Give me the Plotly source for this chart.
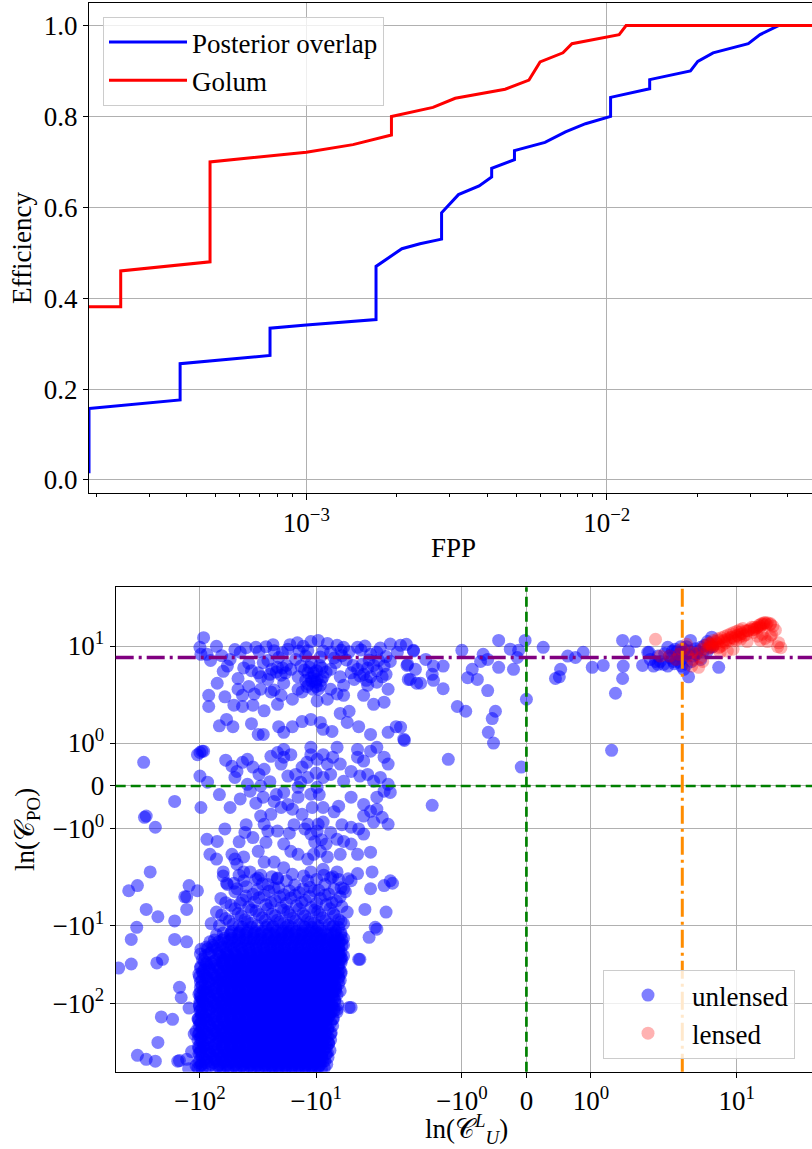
import numpy as np
import plotly.graph_objects as go

# ---------------- top panel: efficiency vs FPP ----------------
po_fpp = [1.89e-4, 1.89e-4, 3.80e-4, 3.80e-4, 7.57e-4, 7.57e-4, 1.0e-3, 1.706e-3, 1.706e-3,
          2.08e-3, 2.39e-3, 2.82e-3, 2.82e-3, 3.21e-3, 3.76e-3, 4.14e-3, 4.14e-3, 4.93e-3,
          4.93e-3, 6.23e-3, 7.29e-3, 8.50e-3, 1.03e-2, 1.03e-2, 1.39e-2, 1.39e-2, 1.90e-2,
          2.01e-2, 2.26e-2, 2.96e-2, 3.24e-2, 3.73e-2, 1.0e-1]
po_eff = [0.015, 0.157, 0.176, 0.256, 0.274, 0.334, 0.341, 0.353, 0.470,
          0.509, 0.520, 0.530, 0.588, 0.628, 0.647, 0.667, 0.686, 0.705,
          0.725, 0.743, 0.766, 0.784, 0.800, 0.842, 0.861, 0.881, 0.900,
          0.921, 0.940, 0.960, 0.980, 1.0, 1.0]

golum_fpp = [1.89e-4, 2.41e-4, 2.41e-4, 4.78e-4, 4.78e-4, 1.0e-3, 1.43e-3, 1.92e-3, 1.92e-3,
             2.64e-3, 3.13e-3, 4.59e-3, 5.51e-3, 6.0e-3, 7.15e-3, 7.66e-3, 1.10e-2, 1.16e-2, 1.0e-1]
golum_eff = [0.381, 0.381, 0.460, 0.480, 0.700, 0.721, 0.738, 0.759, 0.800,
             0.820, 0.840, 0.860, 0.880, 0.920, 0.940, 0.960, 0.980, 1.0, 1.0]

fpp_major_ticks = [1e-3, 1e-2]
fpp_major_text = ["10<sup>\u22123</sup>", "10<sup>\u22122</sup>"]
fpp_minor_ticks = [2e-4, 3e-4, 4e-4, 5e-4, 6e-4, 7e-4, 8e-4, 9e-4,
                   2e-3, 3e-3, 4e-3, 5e-3, 6e-3, 7e-3, 8e-3, 9e-3,
                   2e-2, 3e-2, 4e-2]
eff_ticks = [0.0, 0.2, 0.4, 0.6, 0.8, 1.0]

# ---------------- bottom panel: ln C_U^L vs ln C_PO ----------------
unlensed_top_band = [
    (-93, 12.8), (-72, 9.9), (-87, 7.8), (-81, 6.5), (-63, 4.7), (-71, 3.3), (-84, 2.3), (-84, 1.85),
    (-61, 2.2), (-59, 1.55), (-68, 1.4), (-52, 1.38), (-51, 1.88), (-43, 1.85), (-35, 1.88), (-47, 2.76),
    (-43, 2.3), (-47, 3.8), (-45, 8.3), (-55, 6.7), (-33, 9.6), (-31, 8.5), (-27, 9.8), (-23, 8.7),
    (-21, 7.1), (-17.5, 9.1), (-14.5, 11), (-12.9, 9.9), (-11.1, 11.4), (-9.6, 11.8), (-8.7, 8.6),
    (-30, 4.0), (-26, 3.7), (-23, 2.7), (-20, 2.3), (-18.3, 4.5), (-16.5, 5.0), (-14.3, 4.0), (-12.3, 3.6),
    (-11.1, 3.9), (-10.1, 3.4), (-9.2, 3.1), (-10.5, 4.5), (-9.8, 3.7), (-7.5, 2.76), (-6.6, 2.4),
    (-5.8, 2.3), (-5.0, 4.5), (-4.4, 5.0), (-3.9, 4.3), (-3.4, 4.0), (-3.0, 4.8), (-2.6, 5.5), (-2.3, 6.3),
    (-2.0, 8.3), (-1.95, 10.2), (-1.75, 8.6), (-1.85, 5.6), (-1.8, 3.7), (-1.7, 3.3),
    (-31.5, 1.2), (-28.5, 1.2), (-21, 1.38), (-19, 1.25), (-16, 1.38), (-13.2, 1.5), (-11.1, 1.55),
    (-9.2, 1.48), (-8.7, 1.32), (-7.3, 1.27), (-6.2, 1.69), (-5.2, 1.74), (-5.4, 1.48), (-4.3, 1.38),
    (-3.4, 1.2), (-2.4, 1.25), (-2.05, 1.38), (-1.9, 1.09),
    (-11.6, 3.2), (-10.7, 2.76), (-9.6, 2.76), (-11.8, 4.5), (-8.7, 4.0), (-13.2, 2.55), (-14.3, 2.76),
    (-16, 2.05), (-8.0, 2.05), (-9.8, 1.98), (-4.7, 3.7), (-3.6, 3.1), (-3.0, 3.4), (-2.5, 4.3),
    (-2.4, 2.76), (-3.9, 2.3), (-3.2, 1.9), (-2.6, 1.95), (-3.4, 7.8), (-3.0, 8.3), (-4.4, 9.6),
    (-5.8, 9.6), (-6.6, 10.2), (-7.5, 8.3), (-26, 6.5), (-21.5, 5.3), (-15, 6.7), (-12.3, 7.4),
    (-19, 3.3), (-21.5, 1.9), (-24.5, 2.55), (-30, 2.76), (-31.5, 4.5), (-28.5, 6.1), (-7.5, 5.0),
    (-6.2, 4.0), (-5.8, 3.1),
    (-10.4, 4.1), (-9.9, 4.8), (-11.4, 5.3), (-12.6, 4.9), (-9.3, 5.6), (-10.9, 3.5), (-12.0, 3.0),
    (-9.0, 3.6), (-10.0, 3.0), (-11.0, 6.0), (-13.5, 5.5), (-8.2, 4.6), (-8.9, 5.2),
    (-22, 4.6), (-24, 5.0), (-20, 4.2), (-18, 5.6), (-25, 4.3), (-19.5, 5.2),
    (-4.8, 5.6), (-4.0, 5.8), (-3.6, 5.2), (-3.2, 5.6), (-2.9, 6.5), (-4.2, 4.1), (-3.7, 3.6),
    (-2.7, 4.0), (-2.5, 7.3), (-3.5, 6.6), (-5.5, 6.6), (-6.8, 6.1), (-6.0, 7.5), (-5.2, 8.4),
    (-4.1, 8.9), (-3.8, 10.0), (-2.8, 9.4), (-2.3, 10.6),
    (-40, 9.5), (-38, 6.0), (-36, 4.8), (-42, 5.2), (-50, 9.0), (-58, 5.5), (-65, 7.5), (-100, 9.6),
    (-98, 7.8), (-38, 3.0), (-34, 2.4), (-28, 1.75), (-36, 1.45),
    (-16.8, 10.4), (-19.5, 8.2), (-23.5, 10.4), (-14, 8.6), (-11.8, 8.7), (-9.2, 7.2), (-8.0, 10.8),
    (-7.0, 7.0), (-6.1, 8.8),
]

unlensed_near_zero = [
    (-1.86, 10.5), (-1.75, 8.8), (-1.84, 5.8), (-1.72, 5.0), (-1.83, 3.7), (-1.64, 3.3), (-1.56, 6.7),
    (-1.44, 5.5), (-1.46, 4.3), (-1.44, 3.6), (-1.29, 5.5), (-1.29, 2.8), (-1.95, 1.37), (-1.89, 1.06),
    (-1.07, 1.85), (-0.94, 1.74), (-1.21, 0.62), (-1.46, -0.45), (-1.0, 8.8), (-0.91, 3.9), (-0.84, 5.0),
    (-0.76, 3.7), (-0.71, 6.3), (-0.67, 7.8), (-0.6, 6.7), (-0.6, 2.65), (-0.48, 1.74), (-0.53, 1.57),
    (-0.59, 1.25), (-0.51, 1.0), (-0.43, 11.8), (-0.43, 5.3), (-0.25, 9.1), (-0.2, 5.0), (-0.14, 7.1),
    (-0.12, 8.8), (-0.02, 11.8), (0.0, 2.05), (-0.08, 0.44),
]

unlensed_positive = [
    (0.26, 9.6), (0.45, 3.8), (0.51, 4.0), (0.53, 5.0), (0.64, 7.4), (0.76, 7.1), (0.88, 8.3), (1.02, 5.3),
    (1.19, 5.6), (1.32, 0.83), (1.38, 2.45), (1.49, 3.8), (1.5, 5.5), (1.49, 11.8), (1.58, 8.6),
    (1.69, 11.4), (1.8, 5.6), (1.9, 8.3), (1.97, 5.5), (2.1, 5.8), (2.2, 6.3), (2.55, 9.6), (2.8, 8.6),
    (3.0, 6.7), (3.35, 5.5), (3.85, 4.0), (4.0, 11.8), (4.2, 7.4), (4.9, 9.6), (5.6, 11.4), (6.1, 13),
    (7.0, 5.3), (2.1, 7.4), (2.35, 5.8), (2.85, 6.3), (3.3, 8.3), (3.7, 9.8), (4.6, 8.6), (5.1, 8.3),
    (6.2, 9.8), (1.92, 6.7), (1.88, 8.3), (2.0, 6.3), (2.55, 5.5), (2.65, 7.4), (2.95, 9.1), (3.3, 9.8),
    (3.5, 5.0), (3.7, 5.8), (4.9, 6.7), (5.6, 8.6), (5.9, 9.6),
    (2.4, 8.0), (2.7, 7.0), (3.1, 7.6), (3.4, 6.9), (3.6, 7.9), (3.9, 8.6), (4.4, 9.2), (5.3, 10.2),
    (2.9, 5.9), (3.2, 6.2), (3.05, 8.4), (3.55, 9.0), (4.1, 6.3), (4.5, 7.8),
]

unlensed_middle = [
    (-305, 0.55), (-165, -0.36), (-98, -0.5), (-300, -0.73), (-242, -0.96), (-268, -2.0), (-410, -3.5),
    (-345, -3.0), (-96, 0.81), (-93, 0.81), (-105, 0.73), (-100, 0.23), (-86, 0.09), (-87, -1.24),
    (-71, -1.29), (-61, -1.0), (-82, -1.59), (-72, -1.70), (-63, -2.25), (-53, -1.59), (-50, -1.70),
    (-42, -1.65), (-59, -2.8), (-51, -2.8), (-53, 0.46), (-48, 0.34), (-43, 0.55), (-39, 0.62),
    (-50, 0.2), (-37, -0.12), (-31, 0.27), (-28, 0.39), (-35, 0.44), (-30, -0.7), (-24.5, -0.66),
    (-28, -0.89), (-21.5, -1.05), (-26, -1.05), (-41, -1.08), (-35, -1.2), (-31.5, -1.52), (-27, -1.31),
    (-28.5, -0.26), (-23, -0.36), (-20, -0.5), (-17.5, -0.43), (-16, -0.54), (-24.5, 0.69),
    (-21.5, 0.78), (-19, 0.67), (-20, 0.51), (-17.5, 0.23), (-15, 0.27), (-13.2, 0.44), (-11.8, 0.2),
    (-13.6, 0.09), (-14.3, -0.03), (-11.1, -0.19), (-9.8, -0.03), (-8.7, 0.2), (-7.5, 0.27), (-8.0, 0.51),
    (-9.8, 0.62), (-11.1, 0.73), (-8.7, 0.73), (-7.2, 0.67), (-6.2, 0.51), (-5.0, 0.34), (-8.7, -0.5),
    (-6.4, -0.47), (-5.8, 0.11), (-5.0, -0.26), (-13.2, -0.66), (-11.8, -0.89), (-9.6, -0.89),
    (-8.7, -0.84), (-11.1, -1.12), (-9.8, -1.05), (-7.5, -1.08), (-6.6, -1.24), (-5.8, -1.29),
    (-5.0, -0.96), (-4.3, -1.0), (-3.9, -1.12), (-19, -1.35), (-16.5, -1.52), (-14.3, -1.59),
    (-11.8, -1.7), (-10.5, -1.59), (-9.2, -1.52), (-8.0, -1.65), (-6.2, -1.59), (-5.0, -1.35),
    (-4.4, -1.59), (-3.4, -1.54), (-3.9, -0.43), (-3.4, -0.59), (-3.0, -0.54), (-2.7, -0.73),
    (-2.4, -0.89), (-3.9, -0.7), (-3.2, -0.84), (-3.6, 0.27), (-3.2, 0.11), (-2.8, 0.2), (-2.4, 0.04),
    (-2.4, 0.51), (-2.6, 0.67), (-3.0, 0.9), (-3.4, 0.81), (-3.9, 0.58), (-4.4, 0.67), (-4.2, 0.23),
    (-2.6, -0.12), (-2.3, -0.15), (-3.0, -0.26), (-3.3, -2.0), (-2.3, -2.6), (-2.6, -3.0), (-3.4, -3.3),
    (-4.4, -2.1), (-5.0, -2.6), (-5.8, -3.3), (-63, -2.0), (-48, -1.82), (-37, -2.0), (-28, -1.77),
    (-23, -1.77), (-19, -1.9), (-124, -3.0), (-105, -3.5), (-130, -4.2), (-42, -2.0), (-31.5, -2.4),
    (-26, -2.9), (-21.5, -2.4), (-11.1, -2.0), (-8.7, -1.94), (-6.6, -2.0), (-7.5, -2.4), (-16.5, 0.73),
    (-19, 0.85), (-11.1, 0.9), (-6.6, 0.9), (-4.4, 0.85), (-14.3, -0.26), (-19, -0.15), (-39, 0.04),
    (-30, 0.0), (-290, -0.7), (-100, 0.78),
    (-10.3, -1.3), (-9.0, -1.25), (-10.8, -0.5), (-9.4, -0.2), (-12.5, -1.0), (-7.0, -0.6), (-6.0, -0.9),
    (-8.2, -1.35), (-10, 0.3), (-12, 0.55), (-15.5, -0.9), (-17, -1.1), (-22, -0.2), (-25, 0.1),
    (-33, -0.4), (-45, -0.3), (-40, -0.9), (-46, -1.3), (-55, -0.5), (-60, 0.6), (-68, -0.2),
]

unlensed_pre_blob = [
    (-46, -2.2), (-33, -2.5), (-24, -2.3), (-18, -2.6), (-12.8, -2.25), (-9.9, -2.5), (-7.2, -2.3),
    (-5.3, -2.45), (-58, -2.9), (-40, -3.1), (-29, -2.85), (-21, -3.2), (-15.3, -2.95), (-11.3, -3.15),
    (-8.4, -2.9), (-6.1, -3.2), (-50, -3.6), (-35, -3.9), (-25.5, -3.55), (-19, -3.95), (-14, -3.7),
    (-10.4, -3.5), (-7.8, -3.85), (-5.6, -3.6), (-66, -4.4), (-43, -4.6), (-31, -4.3), (-22.5, -4.7),
    (-16.5, -4.35), (-12.4, -4.65), (-9.2, -4.4), (-6.7, -4.75), (-54, -5.4), (-38, -5.7), (-27, -5.3),
    (-20, -5.8), (-14.8, -5.45), (-11, -5.75), (-8.2, -5.3), (-6.0, -5.6), (-72, -6.6), (-47, -6.9),
    (-33, -6.4), (-24, -7.0), (-17.5, -6.55), (-13, -6.95), (-9.7, -6.5), (-7.1, -6.85), (-5.4, -6.6),
    (-60, -8.0), (-41, -8.3), (-29, -7.8), (-21.5, -8.4), (-15.8, -7.9), (-11.8, -8.25), (-8.8, -7.85),
    (-6.4, -8.3), (-80, -9.3), (-52, -9.6), (-36, -9.2), (-26, -9.7), (-19, -9.3), (-14, -9.65),
    (-10.4, -9.2), (-7.7, -9.55), (-5.8, -9.35),
    (-42, -2.6), (-30, -2.2), (-21.5, -2.45), (-16, -2.15), (-11.8, -2.6), (-8.6, -2.2), (-6.4, -2.5),
    (-48, -3.3), (-32, -3.4), (-23, -3.25), (-17, -3.5), (-12.9, -3.3), (-9.5, -3.45), (-7.0, -3.3),
    (-40, -4.1), (-28, -4.0), (-20.5, -4.2), (-15.2, -4.0), (-11.4, -4.15), (-8.4, -4.0), (-6.2, -4.2),
    (-60, -5.0), (-45, -5.1), (-34, -4.9), (-24.5, -5.0), (-18, -5.1), (-13.3, -4.95), (-9.9, -5.1),
    (-7.3, -5.0), (-50, -6.0), (-36, -6.2), (-26, -6.0), (-19, -6.25), (-14, -6.05), (-10.3, -6.2),
    (-7.6, -6.0), (-65, -7.2), (-44, -7.4), (-31, -7.1), (-22.5, -7.35), (-16.8, -7.2), (-12.5, -7.4),
    (-9.3, -7.15), (-6.9, -7.3), (-56, -8.6), (-39, -8.8), (-27.5, -8.5), (-20.5, -8.9), (-15, -8.6),
    (-11.2, -8.85), (-8.3, -8.55), (-6.1, -8.8), (-68, -9.9), (-46, -10.0), (-32, -9.9), (-23.5, -10.1),
    (-17.4, -9.85), (-12.9, -10.1), (-9.6, -9.9), (-7.1, -10.05),
]

unlensed_outliers = [
    (-290, -6.1), (-230, -7.6), (-165, -8.6), (-130, -6.1), (-350, -10.4), (-390, -14.9), (-165, -14.9),
    (-130, -16), (-390, -31), (-500, -35), (-235, -30), (-210, -27), (-150, -62), (-145, -84),
    (-124, -115), (-215, -150), (-172, -161), (-230, -320), (-345, -470), (-290, -530), (-242, -560),
    (-155, -560), (-130, -530), (-135, -4.2), (-108, -230), (-150, -550),
    (-112, -250), (-118, -420), (-108, -640), (-125, -700), (-104, -160), (-100, -95), (-102, -42),
    (-98, -20),
    (-3.8, -6.1), (-2.5, -6.6), (-3.1, -10.4), (-3.5, -14), (-4.2, -27), (-5.2, -113), (-7.0, -125),
    (-5.8, -17.5), (-6.2, -27), (-4.3, -27), (-6.6, -120), (-8.0, -440), (-8.7, -560), (-2.2, -2.8),
    (-3.0, -11), (-5.0, -113), (-7.0, -17), (-6.5, -40), (-6.8, -70), (-7.2, -160), (-7.5, -250),
    (-7.8, -330), (-6.4, -22),
]

# dense core, first layer: one row of x values per ln(C_PO) level
blob_rows = [
    (-10.4, [-43, -36, -27, -23.8, -18.2, -16.2, -12.4, -10.9, -9.6, -7.4, -6.4]),
    (-11.7, [-53, -45, -39, -33.5, -29, -22, -19.3, -17, -14.8, -13, -11.3, -10, -8.8, -6.8]),
    (-13.0, [-72, -55, -47, -41, -35, -30.5, -26.5, -23, -20, -17.6, -15.3, -13.4, -11.8, -10.4, -9.1, -8.0, -7.0, -6.1]),
    (-14.4, [-62, -53, -45.5, -39, -34, -29, -25.5, -22.2, -19.5, -16.8, -14.6, -12.8, -11.2, -9.8, -8.6, -7.5, -6.5, -5.8]),
    (-16.0, [-82, -69, -58, -50, -43, -37, -32, -27.5, -24, -21, -18.3, -15.9, -13.9, -12.1, -10.6, -9.3, -8.2, -7.1, -6.3]),
    (-17.8, [-78, -66, -56, -48, -41, -35.5, -31, -26.5, -23.2, -20.3, -17.7, -15.4, -13.5, -11.7, -10.2, -9.0, -7.9, -6.9, -6.0]),
    (-19.7, [-86, -72, -60, -51.5, -44, -38, -33, -28.5, -24.8, -21.6, -18.9, -16.5, -14.3, -12.5, -11, -9.6, -8.4, -7.3, -6.4]),
    (-21.9, [-80, -68, -58.5, -49.5, -42.5, -36.5, -31.5, -27.2, -23.5, -20.6, -18, -15.6, -13.7, -12, -10.5, -9.2, -8.0, -7.0, -6.1]),
    (-24.3, [-90, -67, -57, -48.5, -42, -36, -31, -27, -23.8, -21, -18.2, -16.2, -14, -12.4, -10.9, -9.6, -8.5, -7.4, -6.4, -5.8]),
    (-27.0, [-95, -72, -61, -52.5, -45, -39, -33.5, -29, -25, -22, -19.3, -17, -14.8, -13, -11.3, -10, -8.8, -7.7, -6.8, -6.0]),
    (-29.9, [-88, -80, -64, -55, -47, -41, -35, -30.5, -26.5, -23, -20, -17.6, -15.3, -13.4, -11.8, -10.4, -9.1, -8.0, -7.0, -6.1]),
    (-33.2, [-98, -75, -62, -53, -45.5, -39, -34, -29, -25.5, -22.2, -19.5, -16.8, -14.6, -12.8, -11.2, -9.8, -8.6, -7.5, -6.5]),
    (-36.9, [-92, -82, -69, -58, -50, -43, -37, -32, -27.5, -24, -21, -18.3, -15.9, -13.9, -12.1, -10.6, -9.3, -8.2, -7.1, -6.3]),
    (-40.9, [-94, -78, -66, -56, -48, -41, -35.5, -31, -26.5, -23.2, -20.3, -17.7, -15.4, -13.5, -11.7, -10.2, -9.0, -7.9, -6.9, -6.1]),
    (-45.4, [-101, -86, -72, -60, -51.5, -44, -38, -33, -28.5, -24.8, -21.6, -18.9, -16.5, -14.3, -12.5, -11, -9.6, -8.4, -7.3, -6.4]),
    (-50.4, [-96, -80, -68, -58.5, -49.5, -42.5, -36.5, -31.5, -27.2, -23.5, -20.6, -18, -15.6, -13.7, -12, -10.5, -9.2, -8.0, -7.0, -6.2]),
    (-55.9, [-90, -67, -57, -48.5, -42, -36, -31, -27, -23.8, -21, -18.2, -16.2, -14, -12.4, -10.9, -9.6, -8.5, -7.4, -6.4]),
    (-62.1, [-99, -84, -72, -61, -52.5, -45, -39, -33.5, -29, -25, -22, -19.3, -17, -14.8, -13, -11.3, -10, -8.8, -7.7, -6.8]),
    (-68.9, [-93, -80, -64, -55, -47, -41, -35, -30.5, -26.5, -23, -20, -17.6, -15.3, -13.4, -11.8, -10.4, -9.1, -8.0, -7.0, -6.2]),
    (-76.5, [-102, -90, -75, -62, -53, -45.5, -39, -34, -29, -25.5, -22.2, -19.5, -16.8, -14.6, -12.8, -11.2, -9.8, -8.6, -7.5, -6.6]),
    (-84.8, [-98, -82, -69, -58, -50, -43, -37, -32, -27.5, -24, -21, -18.3, -15.9, -13.9, -12.1, -10.6, -9.3, -8.2, -7.1]),
    (-94.2, [-94, -78, -66, -56, -48, -41, -35.5, -31, -26.5, -23.2, -20.3, -17.7, -15.4, -13.5, -11.7, -10.2, -9.0, -7.9, -6.9]),
    (-104.5, [-101, -86, -72, -60, -51.5, -44, -38, -33, -28.5, -24.8, -21.6, -18.9, -16.5, -14.3, -12.5, -11, -9.6, -8.4, -7.3, -6.5]),
    (-116, [-96, -80, -68, -58.5, -49.5, -42.5, -36.5, -31.5, -27.2, -23.5, -20.6, -18, -15.6, -13.7, -12, -10.5, -9.2, -8.0, -7.0]),
    (-128.7, [-100, -88, -67, -57, -48.5, -42, -36, -31, -27, -23.8, -21, -18.2, -16.2, -14, -12.4, -10.9, -9.6, -8.5, -7.4, -6.6]),
    (-142.9, [-97, -84, -72, -61, -52.5, -45, -39, -33.5, -29, -25, -22, -19.3, -17, -14.8, -13, -11.3, -10, -8.8, -7.7]),
    (-158.5, [-103, -90, -80, -64, -55, -47, -41, -35, -30.5, -26.5, -23, -20, -17.6, -15.3, -13.4, -11.8, -10.4, -9.1, -8.0, -7.1]),
    (-176, [-98, -75, -62, -53, -45.5, -39, -34, -29, -25.5, -22.2, -19.5, -16.8, -14.6, -12.8, -11.2, -9.8, -8.6, -7.5]),
    (-195, [-102, -92, -82, -69, -58, -50, -43, -37, -32, -27.5, -24, -21, -18.3, -15.9, -13.9, -12.1, -10.6, -9.3, -8.2, -7.2]),
    (-217, [-96, -78, -66, -56, -48, -41, -35.5, -31, -26.5, -23.2, -20.3, -17.7, -15.4, -13.5, -11.7, -10.2, -9.0, -7.9]),
    (-240, [-101, -86, -72, -60, -51.5, -44, -38, -33, -28.5, -24.8, -21.6, -18.9, -16.5, -14.3, -12.5, -11, -9.6, -8.4, -7.4]),
    (-267, [-97, -80, -68, -58.5, -49.5, -42.5, -36.5, -31.5, -27.2, -23.5, -20.6, -18, -15.6, -13.7, -12, -10.5, -9.2, -8.0]),
    (-296, [-104, -90, -67, -57, -48.5, -42, -36, -31, -27, -23.8, -21, -18.2, -16.2, -14, -12.4, -10.9, -9.6, -8.5, -7.5]),
    (-329, [-99, -84, -72, -61, -52.5, -45, -39, -33.5, -29, -25, -22, -19.3, -17, -14.8, -13, -11.3, -10, -8.8, -7.8]),
    (-365, [-103, -93, -80, -64, -55, -47, -41, -35, -30.5, -26.5, -23, -20, -17.6, -15.3, -13.4, -11.8, -10.4, -9.1, -8.1]),
    (-405, [-98, -75, -62, -53, -45.5, -39, -34, -29, -25.5, -22.2, -19.5, -16.8, -14.6, -12.8, -11.2, -9.8, -8.6, -7.6]),
    (-449, [-102, -88, -82, -69, -58, -50, -43, -37, -32, -27.5, -24, -21, -18.3, -15.9, -13.9, -12.1, -10.6, -9.3, -8.2]),
    (-499, [-96, -78, -66, -56, -48, -41, -35.5, -31, -26.5, -23.2, -20.3, -17.7, -15.4, -13.5, -11.7, -10.2, -9.0, -7.9]),
    (-553, [-101, -86, -72, -60, -51.5, -44, -38, -33, -28.5, -24.8, -21.6, -18.9, -16.5, -14.3, -12.5, -11, -9.6, -8.4]),
    (-615, [-97, -80, -68, -58.5, -49.5, -42.5, -36.5, -31.5, -27.2, -23.5, -20.6, -18, -15.6, -13.7, -12, -10.5, -9.2, -8.1]),
    (-682, [-104, -90, -67, -57, -48.5, -42, -36, -31, -27, -23.8, -21, -18.2, -16.2, -14, -12.4, -10.9, -9.6, -8.5]),
]

# dense core, second layer (rows lying between those above)
blob_rows_2 = [
    (-12.3, [-63, -54, -46, -39.5, -34, -29.5, -25.5, -22.6, -19.8, -17.4, -15.1, -13.2, -11.6, -10.2, -9.0, -7.9, -6.9, -6.1]),
    (-15.2, [-75, -64, -54.5, -46.5, -40, -34.5, -30, -26, -22.8, -20, -17.5, -15.2, -13.3, -11.5, -10.1, -8.9, -7.8, -6.8, -6.0]),
    (-18.7, [-88, -76, -63, -53.5, -45.5, -38.5, -33, -28.6, -24.6, -21.3, -18.6, -16.1, -14.1, -12.3, -10.8, -9.5, -8.3, -7.3, -6.4]),
    (-23.1, [-99, -84, -70, -59, -50.5, -43.5, -37.5, -32.5, -28, -24.3, -21.2, -18.6, -16.2, -14.2, -12.4, -10.9, -9.5, -8.3, -7.3, -6.3]),
    (-25.6, [-63, -54, -46, -39.5, -34, -29.5, -25.5, -22.6, -19.8, -17.4, -15.1, -13.2, -11.6, -10.2, -9.0, -7.9, -6.9, -6.1]),
    (-28.4, [-92, -75, -64, -54.5, -46.5, -40, -34.5, -30, -26, -22.8, -20, -17.5, -15.2, -13.3, -11.5, -10.1, -8.9, -7.8, -6.8]),
    (-31.5, [-88, -76, -63, -53.5, -45.5, -38.5, -33, -28.6, -24.6, -21.3, -18.6, -16.1, -14.1, -12.3, -10.8, -9.5, -8.3, -7.3, -6.4]),
    (-35.0, [-99, -84, -70, -59, -50.5, -43.5, -37.5, -32.5, -28, -24.3, -21.2, -18.6, -16.2, -14.2, -12.4, -10.9, -9.5, -8.3, -7.3]),
    (-38.9, [-95, -63, -54, -46, -39.5, -34, -29.5, -25.5, -22.6, -19.8, -17.4, -15.1, -13.2, -11.6, -10.2, -9.0, -7.9, -6.9, -6.1]),
    (-43.1, [-90, -75, -64, -54.5, -46.5, -40, -34.5, -30, -26, -22.8, -20, -17.5, -15.2, -13.3, -11.5, -10.1, -8.9, -7.8, -6.8]),
    (-47.9, [-88, -76, -63, -53.5, -45.5, -38.5, -33, -28.6, -24.6, -21.3, -18.6, -16.1, -14.1, -12.3, -10.8, -9.5, -8.3, -7.3, -6.4]),
    (-53.1, [-99, -84, -70, -59, -50.5, -43.5, -37.5, -32.5, -28, -24.3, -21.2, -18.6, -16.2, -14.2, -12.4, -10.9, -9.5, -8.3, -7.3]),
    (-59, [-96, -72, -63, -54, -46, -39.5, -34, -29.5, -25.5, -22.6, -19.8, -17.4, -15.1, -13.2, -11.6, -10.2, -9.0, -7.9, -6.9]),
    (-65.5, [-90, -75, -64, -54.5, -46.5, -40, -34.5, -30, -26, -22.8, -20, -17.5, -15.2, -13.3, -11.5, -10.1, -8.9, -7.8, -6.8]),
    (-72.6, [-100, -88, -76, -63, -53.5, -45.5, -38.5, -33, -28.6, -24.6, -21.3, -18.6, -16.1, -14.1, -12.3, -10.8, -9.5, -8.3, -7.3]),
    (-80.6, [-99, -84, -70, -59, -50.5, -43.5, -37.5, -32.5, -28, -24.3, -21.2, -18.6, -16.2, -14.2, -12.4, -10.9, -9.5, -8.3, -7.3]),
    (-89.4, [-95, -72, -63, -54, -46, -39.5, -34, -29.5, -25.5, -22.6, -19.8, -17.4, -15.1, -13.2, -11.6, -10.2, -9.0, -7.9, -6.9]),
    (-99.2, [-90, -75, -64, -54.5, -46.5, -40, -34.5, -30, -26, -22.8, -20, -17.5, -15.2, -13.3, -11.5, -10.1, -8.9, -7.8]),
    (-110, [-101, -88, -76, -63, -53.5, -45.5, -38.5, -33, -28.6, -24.6, -21.3, -18.6, -16.1, -14.1, -12.3, -10.8, -9.5, -8.3, -7.3]),
    (-122, [-99, -84, -70, -59, -50.5, -43.5, -37.5, -32.5, -28, -24.3, -21.2, -18.6, -16.2, -14.2, -12.4, -10.9, -9.5, -8.3]),
    (-135.7, [-96, -72, -63, -54, -46, -39.5, -34, -29.5, -25.5, -22.6, -19.8, -17.4, -15.1, -13.2, -11.6, -10.2, -9.0, -7.9]),
    (-150.6, [-92, -75, -64, -54.5, -46.5, -40, -34.5, -30, -26, -22.8, -20, -17.5, -15.2, -13.3, -11.5, -10.1, -8.9, -7.8]),
    (-167, [-102, -88, -76, -63, -53.5, -45.5, -38.5, -33, -28.6, -24.6, -21.3, -18.6, -16.1, -14.1, -12.3, -10.8, -9.5, -8.3]),
    (-185.5, [-99, -84, -70, -59, -50.5, -43.5, -37.5, -32.5, -28, -24.3, -21.2, -18.6, -16.2, -14.2, -12.4, -10.9, -9.5, -8.3]),
    (-206, [-95, -72, -63, -54, -46, -39.5, -34, -29.5, -25.5, -22.6, -19.8, -17.4, -15.1, -13.2, -11.6, -10.2, -9.0, -7.9]),
    (-228.5, [-90, -75, -64, -54.5, -46.5, -40, -34.5, -30, -26, -22.8, -20, -17.5, -15.2, -13.3, -11.5, -10.1, -8.9]),
    (-253, [-103, -88, -76, -63, -53.5, -45.5, -38.5, -33, -28.6, -24.6, -21.3, -18.6, -16.1, -14.1, -12.3, -10.8, -9.5, -8.3]),
    (-281, [-99, -84, -70, -59, -50.5, -43.5, -37.5, -32.5, -28, -24.3, -21.2, -18.6, -16.2, -14.2, -12.4, -10.9, -9.5]),
    (-312, [-96, -72, -63, -54, -46, -39.5, -34, -29.5, -25.5, -22.6, -19.8, -17.4, -15.1, -13.2, -11.6, -10.2, -9.0, -8.0]),
    (-346, [-92, -75, -64, -54.5, -46.5, -40, -34.5, -30, -26, -22.8, -20, -17.5, -15.2, -13.3, -11.5, -10.1, -8.9]),
    (-384, [-102, -88, -76, -63, -53.5, -45.5, -38.5, -33, -28.6, -24.6, -21.3, -18.6, -16.1, -14.1, -12.3, -10.8, -9.5, -8.4]),
    (-426, [-99, -84, -70, -59, -50.5, -43.5, -37.5, -32.5, -28, -24.3, -21.2, -18.6, -16.2, -14.2, -12.4, -10.9, -9.5]),
    (-473, [-95, -72, -63, -54, -46, -39.5, -34, -29.5, -25.5, -22.6, -19.8, -17.4, -15.1, -13.2, -11.6, -10.2, -9.0]),
    (-525, [-90, -75, -64, -54.5, -46.5, -40, -34.5, -30, -26, -22.8, -20, -17.5, -15.2, -13.3, -11.5, -10.1, -8.9]),
    (-583, [-103, -88, -76, -63, -53.5, -45.5, -38.5, -33, -28.6, -24.6, -21.3, -18.6, -16.1, -14.1, -12.3, -10.8, -9.5]),
    (-647, [-99, -84, -70, -59, -50.5, -43.5, -37.5, -32.5, -28, -24.3, -21.2, -18.6, -16.2, -14.2, -12.4, -10.9, -9.5]),
    (-715, [-96, -72, -63, -54, -46, -39.5, -34, -29.5, -25.5, -22.6, -19.8, -17.4, -15.1, -13.2, -11.6, -10.2, -9.0]),
]

lensed_points = [
    (2.0, 12.2), (2.2, 7.4), (4.1, 5.5), (4.7, 5.3), (3.35, 9.1), (3.7, 10.5), (5.6, 9.1), (5.9, 10.5),
    (6.6, 11.4), (7.0, 11.8), (7.7, 11.4), (8.3, 12.2), (9.1, 13), (9.8, 13.4), (10.8, 15.2), (11.9, 15.8),
    (12.6, 15.8), (14.2, 16.4), (15.1, 17.5), (16, 18), (17, 19), (18.4, 20), (19.5, 19.5), (16, 11.8),
    (19.5, 13.4), (22.5, 9.8), (18.4, 11.4), (9.3, 9.1), (8.3, 8.6), (7.2, 8.3), (5.1, 6.3), (4.9, 7.1),
    (7.2, 9.8), (6.2, 9.6), (3.0, 6.7), (2.65, 7.4), (4.1, 8.3), (4.2, 6.7), (12.3, 11.4), (10.8, 12.2),
    (15.1, 13.4), (16.6, 14.2), (9.8, 11.8), (10.8, 14.2), (12.3, 15.8), (14.2, 17.5), (16, 19),
    (17.6, 20), (19.5, 19), (5.3, 10.0), (5.8, 9.6), (6.4, 10.4), (6.8, 10.8), (7.5, 10.2), (8.0, 11.0),
    (8.6, 11.8), (9.5, 12.5), (6.0, 11.0), (7.0, 9.5), (5.0, 9.0), (4.5, 8.0), (3.8, 7.5), (3.2, 7.8),
    (10.2, 13.8), (11.2, 14.5), (13.0, 16.5), (14.0, 15.0), (13.5, 17.5), (15.5, 18.5), (17.2, 20.0),
    (12.0, 14.0),
    (6.3, 11.8), (6.9, 12.4), (7.4, 12.8), (7.9, 13.3), (8.4, 13.9), (8.9, 14.4), (9.4, 14.9),
    (10.0, 15.5), (10.6, 16.2), (11.3, 16.8), (5.7, 10.8), (6.1, 10.2), (7.8, 11.9), (8.8, 12.8),
    (10.5, 13.0), (11.5, 13.5), (13.8, 16.2), (14.8, 16.9), (15.8, 17.2), (16.5, 19.5), (18.0, 19.2),
    (20.5, 18.0), (21.5, 16.0), (20.0, 14.0), (17.5, 12.5), (24, 9.5), (23, 11),
]

po_threshold = 7.1
golum_threshold = 3.4

symlog_ticks = [-100, -10, -1, 0, 1, 10]
symlog_text = ["\u221210<sup>2</sup>", "\u221210<sup>1</sup>", "\u221210<sup>0</sup>", "0",
               "10<sup>0</sup>", "10<sup>1</sup>"]


def symlog(v, linthresh=2.0, base=10.0, linscale=1.0):
    """matplotlib-style symlog transform (default linthresh=2)."""
    v = np.asarray(v, dtype=float)
    adj = linscale / (1.0 - 1.0 / base)
    a = np.abs(v)
    logpart = np.sign(v) * linthresh * (adj + np.log10(np.maximum(a, 1e-300) / linthresh) / np.log10(base))
    return np.where(a <= linthresh, v * adj, logpart)


unl = unlensed_top_band + unlensed_near_zero + unlensed_positive + unlensed_middle \
    + unlensed_pre_blob + unlensed_outliers
ux = [p[0] for p in unl]
uy = [p[1] for p in unl]
for yv, row in blob_rows + blob_rows_2:
    ux.extend(row)
    uy.extend([yv] * len(row))
lx = [p[0] for p in lensed_points]
ly = [p[1] for p in lensed_points]

# ---------------- figure ----------------
W, H = 812, 1149
FONT = "Liberation Serif"
FS = 27


def px_x(p):
    return p / W


def px_y(p):
    return 1 - p / H


fig = go.Figure()

fig.add_trace(go.Scatter(x=po_fpp, y=po_eff, mode="lines", name="Posterior overlap",
                         line=dict(color="#0000ff", width=3), xaxis="x", yaxis="y", legend="legend"))
fig.add_trace(go.Scatter(x=golum_fpp, y=golum_eff, mode="lines", name="Golum",
                         line=dict(color="#ff0000", width=3), xaxis="x", yaxis="y", legend="legend"))

fig.add_trace(go.Scatter(x=symlog(ux), y=symlog(uy), mode="markers", name="unlensed",
                         marker=dict(color="rgba(0,0,255,0.5)", size=13, line=dict(width=0)),
                         xaxis="x2", yaxis="y2", legend="legend2"))
fig.add_trace(go.Scatter(x=symlog(lx), y=symlog(ly), mode="markers", name="lensed",
                         marker=dict(color="rgba(255,0,0,0.3)", size=13, line=dict(width=0)),
                         xaxis="x2", yaxis="y2", legend="legend2"))

shapes = [
    dict(type="line", xref="x2 domain", yref="y2", x0=0, x1=1, y0=0, y1=0,
         line=dict(color="#008000", width=2.7, dash="10px,5px")),
    dict(type="line", xref="x2", yref="y2 domain", x0=0, x1=0, y0=0, y1=1,
         line=dict(color="#008000", width=2.7, dash="10px,5px")),
    dict(type="line", xref="x2 domain", yref="y2", x0=0, x1=1,
         y0=float(symlog(po_threshold)), y1=float(symlog(po_threshold)),
         line=dict(color="#800080", width=3.3, dash="18px,5px,3px,5px")),
    dict(type="line", xref="x2", yref="y2 domain", y0=0, y1=1,
         x0=float(symlog(golum_threshold)), x1=float(symlog(golum_threshold)),
         line=dict(color="#ff8c00", width=3, dash="18px,5px,3px,5px")),
]

axis_common = dict(showline=True, linecolor="black", linewidth=1.2, ticks="outside",
                   tickcolor="black", tickwidth=1.2, showgrid=True, gridcolor="#b0b0b0",
                   gridwidth=1, zeroline=False, automargin=False,
                   tickfont=dict(family=FONT, size=FS, color="black"))

fig.update_layout(
    width=W, height=H, autosize=False,
    margin=dict(l=0, r=0, t=0, b=0, pad=0),
    paper_bgcolor="white", plot_bgcolor="white",
    font=dict(family=FONT, size=FS, color="black"),
    shapes=shapes,
    xaxis=dict(type="log", domain=[px_x(89), 1.0], anchor="y",
               range=[np.log10(1.89e-4), -1.3166], mirror=True, ticklen=6,
               tickmode="array", tickvals=fpp_major_ticks, ticktext=fpp_major_text,
               minor=dict(ticks="outside", ticklen=3.5, tickwidth=1, tickcolor="black",
                          tickmode="array", tickvals=fpp_minor_ticks, showgrid=False),
               **axis_common),
    yaxis=dict(domain=[px_y(492.7), px_y(3.3)], anchor="x", range=[-0.028, 1.049],
               tickmode="array", tickvals=eff_ticks, ticktext=[f"{v:.1f}" for v in eff_ticks],
               ticklen=5, mirror=False, **axis_common),
    xaxis2=dict(domain=[px_x(115.7), 1.0], anchor="y2", range=[-7.070, 4.916],
                tickmode="array", tickvals=symlog(symlog_ticks).tolist(), ticktext=symlog_text,
                ticklen=5, mirror=True, **axis_common),
    yaxis2=dict(domain=[px_y(1071.7), px_y(587.3)], anchor="x2", range=[-7.388, 5.138],
                tickmode="array", tickvals=symlog(symlog_ticks).tolist(), ticktext=symlog_text,
                ticklen=5, mirror=False, **axis_common),
    legend=dict(x=px_x(103), y=px_y(17), xanchor="left", yanchor="top",
                bgcolor="rgba(255,255,255,0.8)", bordercolor="#cccccc", borderwidth=1,
                font=dict(family=FONT, size=FS, color="black"), itemwidth=78),
    legend2=dict(x=px_x(603), y=px_y(970), xanchor="left", yanchor="top",
                 bgcolor="rgba(255,255,255,0.8)", bordercolor="#cccccc", borderwidth=1,
                 font=dict(family=FONT, size=FS, color="black"), itemwidth=78),
    annotations=[
        dict(text="FPP", x=px_x(453), y=px_y(548), xref="paper", yref="paper",
             showarrow=False, xanchor="center", yanchor="middle", font=dict(size=FS)),
        dict(text="Efficiency", x=px_x(22), y=px_y(248), xref="paper", yref="paper",
             showarrow=False, xanchor="center", yanchor="middle", textangle=-90, font=dict(size=FS)),
        dict(text="ln(\U0001D49E<sub>PO</sub>)", x=px_x(27), y=px_y(830), xref="paper", yref="paper",
             showarrow=False, xanchor="center", yanchor="middle", textangle=-90, font=dict(size=FS)),
        dict(text="ln(\U0001D49E<sup><i>L</i></sup><sub><i>U</i></sub>)", x=px_x(466), y=px_y(1129),
             xref="paper", yref="paper", showarrow=False, xanchor="center", yanchor="middle",
             font=dict(size=FS)),
    ],
)

fig.write_html("out.html")
